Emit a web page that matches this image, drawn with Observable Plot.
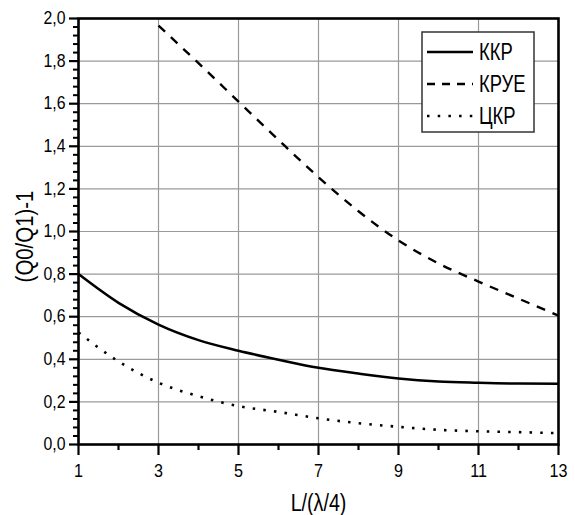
<!DOCTYPE html>
<html>
<head>
<meta charset="utf-8">
<script src="https://cdn.jsdelivr.net/npm/d3@7"></script>
<script src="https://cdn.jsdelivr.net/npm/@observablehq/plot@0.6"></script>
<style>
  body { margin: 0; background: white; }
  #wrap { position: relative; width: 575px; height: 515px; }
  #wrap > svg, #legend { position: absolute; left: 0; top: 0; }
</style>
</head>
<body>
<div id="wrap"></div>
<script>
// ---- data ----
const xValues   = [1, 2, 3, 4, 5, 6, 7, 8, 9, 10, 11, 12, 13];
const kkr       = [0.80, 0.665, 0.563, 0.49, 0.44, 0.398, 0.36, 0.333, 0.31, 0.296, 0.29, 0.286, 0.285];
const krueX     = [3, 4, 5, 6, 7, 8, 9, 10, 11, 12, 13];
const krue      = [1.967, 1.79, 1.61, 1.43, 1.255, 1.095, 0.958, 0.85, 0.765, 0.685, 0.605];
const ckr       = [0.526, 0.39, 0.29, 0.227, 0.18, 0.153, 0.123, 0.10, 0.083, 0.069, 0.062, 0.058, 0.053];
const seriesNames = ["ККР", "КРУЕ", "ЦКР"];
const xTickLabels = [1, 3, 5, 7, 9, 11, 13];
const xMinorTicks = [2, 4, 6, 8, 10, 12];
const yTickLabels = [0, 0.2, 0.4, 0.6, 0.8, 1.0, 1.2, 1.4, 1.6, 1.8, 2.0];
const xLabel = "L/(λ/4)";
const yLabel = "(Q0/Q1)-1";

// ---- styling ----
const FONT = "'Liberation Sans', Arial, sans-serif";
const dashes = ["none", "9,8", "2.5,8.2"];
const widths = [2.5, 2.4, 2.6];

const rows = [
  ...xValues.map((x, i) => ({x, y: kkr[i], s: seriesNames[0]})),
  ...krueX.map((x, i) => ({x, y: krue[i], s: seriesNames[1]})),
  ...xValues.map((x, i) => ({x, y: ckr[i], s: seriesNames[2]}))
];
const yMinor = d3.range(0, 2.0001, 0.04).filter(v => Math.abs(v / 0.2 - Math.round(v / 0.2)) > 1e-6);
const fmt = d => d.toFixed(1).replace(".", ",");

const W = 575, H = 515;
const mL = 78, mR = 17, mT = 18, mB = 71;

const lineMarks = seriesNames.map((name, i) =>
  Plot.line(rows.filter(r => r.s === name), {
    x: "x", y: "y", stroke: "black", strokeWidth: widths[i],
    strokeDasharray: dashes[i] === "none" ? undefined : dashes[i],
    strokeLinecap: "butt", curve: "monotone-x"
  })
);

const chart = Plot.plot({
  width: W, height: H,
  marginLeft: mL, marginRight: mR, marginTop: mT, marginBottom: mB,
  style: {fontFamily: FONT, background: "white", color: "black"},
  x: {domain: [1, 13], nice: false},
  y: {domain: [0, 2], nice: false},
  marks: [
    Plot.gridX(xTickLabels.filter(v => v > 1 && v < 13), {stroke: "#9a9a9a", strokeOpacity: 1, strokeWidth: 1.2}),
    Plot.gridY(yTickLabels.filter(v => v > 0 && v < 2), {stroke: "#9a9a9a", strokeOpacity: 1, strokeWidth: 1.2}),
    ...lineMarks,
    Plot.frame({stroke: "black", strokeWidth: 2.6}),
    Plot.axisX(xTickLabels, {tickSize: 11, tickPadding: 8, strokeWidth: 2.2, fontSize: 19, tickFormat: d => String(d), label: null, className: "xtick"}),
    Plot.axisX(xMinorTicks, {tickSize: 6, strokeWidth: 2.2, text: null, label: null}),
    Plot.axisY(yTickLabels, {tickSize: 9, tickPadding: 4, strokeWidth: 2.2, fontSize: 18, tickFormat: fmt, label: null, className: "ytick"}),
    Plot.axisY(yMinor, {tickSize: 5, strokeWidth: 2, text: null, label: null}),
    Plot.text([xLabel], {text: d => d, frameAnchor: "bottom", dy: 66, fontSize: 24, fill: "black", className: "xtitle"}),
    Plot.text([yLabel], {text: d => d, frameAnchor: "left", textAnchor: "middle", lineAnchor: "middle", dx: -53, dy: 5, rotate: -90, fontSize: 24, fill: "black", className: "ytitle"})
  ]
});
document.getElementById("wrap").appendChild(chart);

// condense the text horizontally (the reference uses a narrow face)
function condense(sel, k) {
  d3.select(chart).selectAll(sel).each(function() {
    const t = this.getAttribute("transform") || "";
    this.setAttribute("transform", (t + ` scale(${k},1)`).trim());
  });
}
condense("g.xtick text", 0.85);
condense("g.ytick text", 0.88);
condense("g.xtitle text", 0.82);
condense("g.ytitle text", 0.85);

// ---- legend box overlaid inside the plot area ----
const leg = d3.select("#wrap").append("svg")
  .attr("id", "legend").attr("width", W).attr("height", H)
  .style("pointer-events", "none");
const box = {x: 422, y: 32, w: 112, h: 100};
leg.append("rect").attr("x", box.x).attr("y", box.y).attr("width", box.w).attr("height", box.h)
  .attr("fill", "white").attr("stroke", "#333").attr("stroke-width", 1.5);
const rowY = [52, 84, 116];
seriesNames.forEach((name, i) => {
  leg.append("line").attr("x1", 427).attr("x2", 473).attr("y1", rowY[i]).attr("y2", rowY[i])
    .attr("stroke", "black").attr("stroke-width", widths[i])
    .attr("stroke-dasharray", dashes[i] === "none" ? null : (i === 1 ? "8,7" : "2.5,8.2"));
  leg.append("text").attr("transform", `translate(479,${rowY[i]}) scale(0.8,1)`).attr("dy", "0.36em")
    .attr("font-family", FONT).attr("font-size", 23).attr("fill", "black").text(name);
});
</script>
</body>
</html>
